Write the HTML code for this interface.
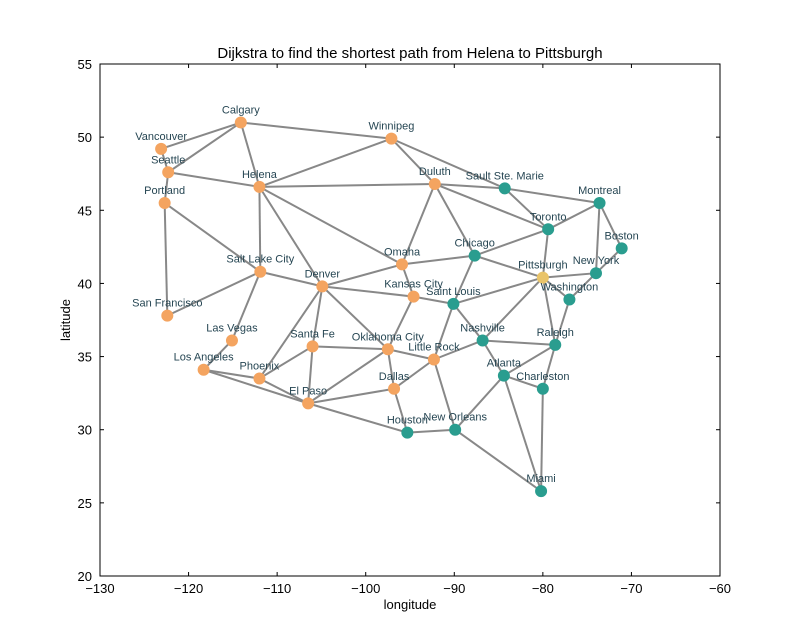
<!DOCTYPE html>
<html><head><meta charset="utf-8"><style>
body{margin:0;background:#fff;}
svg{display:block;font-family:"Liberation Sans",sans-serif;}
</style></head><body>
<svg id="chart" width="800" height="640">
<rect x="0" y="0" width="800" height="640" fill="#fff"/>
<g id="edges"></g><g id="nodes"></g><g id="labels"></g><g id="axes"></g>
<text x="410" y="58" text-anchor="middle" font-size="15">Dijkstra to find the shortest path from Helena to Pittsburgh</text>
<text x="410" y="609" text-anchor="middle" font-size="13">longitude</text>
<text x="70" y="320" text-anchor="middle" font-size="13" transform="rotate(-90 70 320)">latitude</text>
</svg>
<script>
const cityNames=["Vancouver","Calgary","Seattle","Portland","Helena","Winnipeg","Duluth","Sault Ste. Marie","Montreal","Toronto","Boston","Chicago","Pittsburgh","New York","Washington","Omaha","Salt Lake City","Denver","Kansas City","Saint Louis","San Francisco","Las Vegas","Nashville","Raleigh","Santa Fe","Oklahoma City","Little Rock","Los Angeles","Phoenix","Atlanta","Charleston","Dallas","El Paso","Houston","New Orleans","Miami"];
const cityLon=[-123.1,-114.1,-122.3,-122.7,-112.0,-97.1,-92.2,-84.3,-73.6,-79.4,-71.1,-87.7,-80.0,-74.0,-77.0,-95.9,-111.9,-104.9,-94.6,-90.1,-122.4,-115.1,-86.8,-78.6,-106.0,-97.5,-92.3,-118.3,-112.0,-84.4,-80.0,-96.8,-106.5,-95.3,-89.9,-80.2];
const cityLat=[49.2,51.0,47.6,45.5,46.6,49.9,46.8,46.5,45.5,43.7,42.4,41.9,40.4,40.7,38.9,41.3,40.8,39.8,39.1,38.6,37.8,36.1,36.1,35.8,35.7,35.5,34.8,34.1,33.5,33.7,32.8,32.8,31.8,29.8,30.0,25.8];
const cityState=["o","o","o","o","o","o","o","t","t","t","t","t","y","t","t","o","o","o","o","t","o","o","t","t","o","o","o","o","o","t","t","o","o","t","t","t"];
const edgeList=[["Vancouver","Calgary"],["Vancouver","Seattle"],["Seattle","Calgary"],["Seattle","Portland"],["Seattle","Helena"],["Calgary","Helena"],["Calgary","Winnipeg"],["Helena","Winnipeg"],["Helena","Duluth"],["Helena","Omaha"],["Helena","Denver"],["Helena","Salt Lake City"],["Portland","Salt Lake City"],["Portland","San Francisco"],["San Francisco","Salt Lake City"],["Salt Lake City","Denver"],["Salt Lake City","Las Vegas"],["Las Vegas","Los Angeles"],["Los Angeles","Phoenix"],["Los Angeles","El Paso"],["Phoenix","Denver"],["Phoenix","Santa Fe"],["Phoenix","El Paso"],["Denver","Santa Fe"],["Denver","Oklahoma City"],["Denver","Kansas City"],["Denver","Omaha"],["Santa Fe","El Paso"],["Santa Fe","Oklahoma City"],["El Paso","Oklahoma City"],["El Paso","Dallas"],["El Paso","Houston"],["Winnipeg","Duluth"],["Winnipeg","Sault Ste. Marie"],["Duluth","Sault Ste. Marie"],["Duluth","Toronto"],["Duluth","Omaha"],["Duluth","Chicago"],["Sault Ste. Marie","Montreal"],["Sault Ste. Marie","Toronto"],["Montreal","Toronto"],["Montreal","Boston"],["Montreal","New York"],["Toronto","Pittsburgh"],["Toronto","Chicago"],["Boston","New York"],["Chicago","Pittsburgh"],["Chicago","Omaha"],["Chicago","Saint Louis"],["Pittsburgh","New York"],["Pittsburgh","Washington"],["Pittsburgh","Saint Louis"],["Pittsburgh","Nashville"],["Pittsburgh","Raleigh"],["New York","Washington"],["Washington","Raleigh"],["Omaha","Kansas City"],["Kansas City","Saint Louis"],["Kansas City","Oklahoma City"],["Saint Louis","Little Rock"],["Saint Louis","Nashville"],["Oklahoma City","Little Rock"],["Oklahoma City","Dallas"],["Little Rock","Dallas"],["Little Rock","Nashville"],["Little Rock","New Orleans"],["Dallas","Houston"],["Houston","New Orleans"],["New Orleans","Atlanta"],["New Orleans","Miami"],["Nashville","Atlanta"],["Nashville","Raleigh"],["Atlanta","Raleigh"],["Atlanta","Charleston"],["Atlanta","Miami"],["Raleigh","Charleston"],["Charleston","Miami"]];
const xTicks=[-130,-120,-110,-100,-90,-80,-70,-60];
const yTicks=[20,25,30,35,40,45,50,55];
const X0=100,X1=720,Y0=64,Y1=576;
const xs=v=>X0+(v+130)/70*(X1-X0);
const ys=v=>Y1-(v-20)/35*(Y1-Y0);
const NS="http://www.w3.org/2000/svg";
function mk(t,a,p){const e=document.createElementNS(NS,t);for(const k in a)e.setAttribute(k,a[k]);p.appendChild(e);return e;}
const colors={o:"#f4a460",t:"#2a9d8f",y:"#e9c46a"};
const idx=n=>cityNames.indexOf(n);
const fmt=v=>(v<0?"\u2212":"")+Math.abs(v);
const gE=document.getElementById("edges"),gN=document.getElementById("nodes"),gL=document.getElementById("labels"),gA=document.getElementById("axes");
edgeList.forEach(([a,b])=>{const i=idx(a),j=idx(b);
const l=mk("line",{x1:xs(cityLon[i]),y1:ys(cityLat[i]),x2:xs(cityLon[j]),y2:ys(cityLat[j]),stroke:"#888",'stroke-width':2},gE);

});
cityNames.forEach((n,i)=>{const x=xs(cityLon[i]),y=ys(cityLat[i]);
const c=mk("circle",{cx:x,cy:y,r:5.5,fill:colors[cityState[i]],stroke:colors[cityState[i]]},gN);


const t=mk("text",{x:x,y:y-9,'text-anchor':'middle','font-size':11,fill:"#264653"},gL);t.textContent=n;

});
mk("rect",{x:X0,y:Y0,width:X1-X0,height:Y1-Y0,fill:"none",stroke:"#000",'stroke-width':1},gA);
xTicks.forEach(v=>{const x=xs(v);mk("line",{x1:x,y1:Y1,x2:x,y2:Y1-4,stroke:"#000"},gA);mk("line",{x1:x,y1:Y0,x2:x,y2:Y0+4,stroke:"#000"},gA);
const t=mk("text",{x:x,y:Y1+17,'text-anchor':'middle','font-size':13},gA);t.textContent=fmt(v);

});
yTicks.forEach(v=>{const y=ys(v);mk("line",{x1:X0,y1:y,x2:X0+4,y2:y,stroke:"#000"},gA);mk("line",{x1:X1,y1:y,x2:X1-4,y2:y,stroke:"#000"},gA);
const t=mk("text",{x:X0-8,y:y+5,'text-anchor':'end','font-size':13},gA);t.textContent=fmt(v);

});
</script>
</body></html>
